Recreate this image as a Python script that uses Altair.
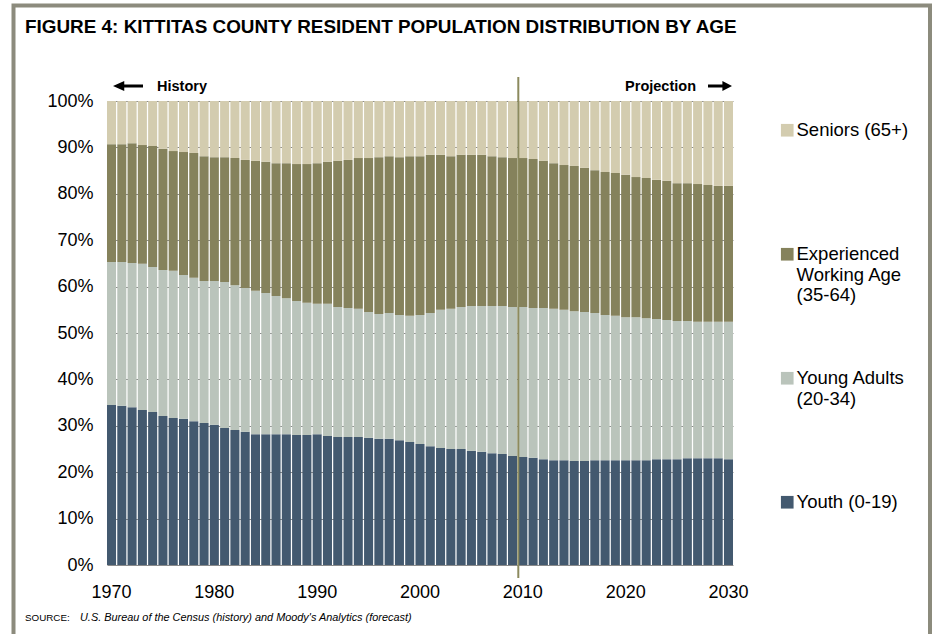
import altair as alt
import pandas as pd

FONT = "Liberation Sans, Arial, Helvetica, sans-serif"

years = list(range(1970, 2031))

# Share of resident population (%) by age group, 1970-2030
youth = [
    34.5, 34.3, 34.0, 33.4, 33.0, 32.1, 31.7, 31.5, 31.0, 30.6,
    30.2, 29.5, 29.1, 28.7, 28.2, 28.2, 28.2, 28.2, 28.0, 28.0,
    28.2, 27.8, 27.6, 27.6, 27.6, 27.4, 27.2, 27.2, 26.9, 26.5,
    26.1, 25.6, 25.2, 25.0, 25.0, 24.6, 24.4, 24.1, 23.9, 23.5,
    23.3, 23.1, 22.8, 22.6, 22.6, 22.4, 22.4, 22.6, 22.6, 22.6,
    22.6, 22.6, 22.6, 22.8, 22.8, 22.8, 23.0, 23.0, 23.0, 23.0,
    22.8,
]
young_adults = [
    30.8, 31.0, 31.1, 31.5, 31.2, 31.5, 31.7, 31.0, 30.9, 30.6,
    31.0, 31.5, 31.2, 31.0, 30.9, 30.4, 29.8, 29.3, 28.9, 28.5,
    28.1, 28.5, 28.0, 27.8, 27.6, 27.1, 26.9, 27.1, 27.0, 27.2,
    27.8, 28.7, 29.8, 30.2, 30.6, 31.2, 31.4, 31.7, 31.9, 32.1,
    32.3, 32.3, 32.6, 32.6, 32.4, 32.3, 32.1, 31.7, 31.3, 31.1,
    30.8, 30.8, 30.6, 30.2, 30.0, 29.8, 29.6, 29.4, 29.4, 29.4,
    29.6,
]
experienced = [
    25.4, 25.4, 25.8, 25.6, 26.1, 26.1, 25.8, 26.5, 26.9, 26.9,
    26.7, 26.9, 27.4, 27.6, 28.0, 28.3, 28.6, 29.1, 29.5, 29.9,
    30.3, 30.6, 31.5, 31.9, 32.5, 33.2, 33.8, 33.8, 34.0, 34.4,
    34.2, 34.1, 33.4, 32.9, 32.8, 32.6, 32.6, 32.3, 32.1, 32.1,
    32.1, 32.1, 31.7, 31.4, 31.2, 31.3, 31.1, 30.8, 30.8, 30.8,
    30.7, 30.2, 30.2, 30.0, 30.0, 29.7, 29.7, 29.7, 29.5, 29.3,
    29.3,
]
seniors = [
    9.3, 9.3, 9.1, 9.5, 9.7, 10.3, 10.8, 11.0, 11.2, 11.9,
    12.1, 12.1, 12.3, 12.7, 12.9, 13.1, 13.4, 13.4, 13.6, 13.6,
    13.4, 13.1, 12.9, 12.7, 12.3, 12.3, 12.1, 11.9, 12.1, 11.9,
    11.9, 11.6, 11.6, 11.9, 11.6, 11.6, 11.6, 11.9, 12.1, 12.3,
    12.3, 12.5, 12.9, 13.4, 13.8, 14.0, 14.4, 14.9, 15.3, 15.5,
    15.9, 16.4, 16.6, 17.0, 17.2, 17.7, 17.7, 17.9, 18.1, 18.3,
    18.3,
]

group_names = [
    "Seniors (65+)",
    "Experienced Working Age (35-64)",
    "Young Adults (20-34)",
    "Youth (0-19)",
]
group_colors = ["#D3CCAF", "#85825C", "#BAC4BB", "#43596F"]
x_tick_years = [1970, 1980, 1990, 2000, 2010, 2020, 2030]
projection_start = 2010

title_text = "FIGURE 4: KITTITAS COUNTY RESIDENT POPULATION DISTRIBUTION BY AGE"
source_label = "SOURCE:"
source_text = "U.S. Bureau of the Census (history) and Moody's Analytics (forecast)"

series = {
    "Youth (0-19)": youth,
    "Young Adults (20-34)": young_adults,
    "Experienced Working Age (35-64)": experienced,
    "Seniors (65+)": seniors,
}
stack_rank = {name: i for i, name in enumerate(series)}

rows = []
for name, values in series.items():
    for yr, v in zip(years, values):
        rows.append({"year": yr, "group": name, "share": v, "rank": stack_rank[name]})
df = pd.DataFrame(rows)

W, H = 626, 464

legend_labels = (
    "datum.label == 'Experienced Working Age (35-64)' ? ['Experienced', 'Working Age', '(35-64)'] : "
    "datum.label == 'Young Adults (20-34)' ? ['Young Adults', '(20-34)'] : datum.label"
)

bars = alt.Chart(df).mark_bar(opacity=1).encode(
    x=alt.X(
        "year:O",
        scale=alt.Scale(paddingInner=0.12, paddingOuter=0),
        axis=alt.Axis(
            values=x_tick_years, labelAngle=0, ticks=False, domain=False,
            labelFontSize=18, labelFont=FONT, labelColor="black",
            labelPadding=18, title=None, grid=False,
        ),
    ),
    y=alt.Y(
        "share:Q",
        stack="zero",
        scale=alt.Scale(domain=[0, 100], nice=False),
        axis=alt.Axis(
            values=list(range(0, 101, 10)), labelExpr="datum.value + '%'",
            ticks=False, domain=False, grid=True, gridColor="#8a8a8a",
            gridWidth=1, labelPadding=14, labelFontSize=18, labelFont=FONT,
            labelColor="black", title=None,
        ),
    ),
    color=alt.Color(
        "group:N",
        scale=alt.Scale(domain=group_names, range=group_colors),
        legend=alt.Legend(
            title=None, orient="none", legendX=671, legendY=20,
            direction="vertical", symbolType="square", symbolSize=160,
            symbolStrokeWidth=0, symbolOpacity=1, labelFontSize=18.5,
            labelFont=FONT, labelColor="black", labelExpr=legend_labels,
            labelLimit=220, labelOffset=0, rowPadding=64, gridAlign="all",
        ),
    ),
    order=alt.Order("rank:Q", sort="ascending"),
)

divider = alt.Chart(pd.DataFrame({"year": [projection_start]})).mark_rule(
    color="#8C8A5E", strokeWidth=2
).encode(
    x=alt.X("year:O", bandPosition=0),
    y=alt.value(-24),
    y2=alt.value(H + 13),
)

one = pd.DataFrame({"k": [0]})

frame = alt.Chart(one).mark_rect(
    fillOpacity=0, stroke="#8C8B7D", strokeWidth=4
).encode(
    x=alt.value(-93.5), x2=alt.value(823), y=alt.value(-95.5), y2=alt.value(545)
)

title = alt.Chart(one).mark_text(
    text=title_text, font=FONT, fontSize=18.9, fontWeight="bold",
    align="left", baseline="alphabetic", color="black"
).encode(x=alt.value(-82), y=alt.value(-68))

left_arrow = "M -1 0 L -0.25 -0.33 L -0.25 -0.1 L 1 -0.1 L 1 0.1 L -0.25 0.1 L -0.25 0.33 Z"
right_arrow = "M 1 0 L 0.2 -0.42 L 0.2 -0.13 L -1 -0.13 L -1 0.13 L 0.2 0.13 L 0.2 0.42 Z"

hist_arrow = alt.Chart(one).mark_point(
    shape=left_arrow, filled=True, color="black", opacity=1, size=900, strokeWidth=0
).encode(x=alt.value(21), y=alt.value(-15))
proj_arrow = alt.Chart(one).mark_point(
    shape=right_arrow, filled=True, color="black", opacity=1, size=576, strokeWidth=0
).encode(x=alt.value(613), y=alt.value(-15))

hist_text = alt.Chart(one).mark_text(
    text="History", font=FONT, fontSize=14.5, fontWeight="bold",
    align="left", baseline="middle", color="black"
).encode(x=alt.value(50), y=alt.value(-14))
proj_text = alt.Chart(one).mark_text(
    text="Projection", font=FONT, fontSize=14.5, fontWeight="bold",
    align="right", baseline="middle", color="black"
).encode(x=alt.value(589), y=alt.value(-14))

src1 = alt.Chart(one).mark_text(
    text=source_label, font=FONT, fontSize=9.8, align="left",
    baseline="middle", color="black"
).encode(x=alt.value(-82), y=alt.value(517))
src2 = alt.Chart(one).mark_text(
    text=source_text, font=FONT, fontSize=10.9, fontStyle="italic",
    align="left", baseline="middle", color="black"
).encode(x=alt.value(-27), y=alt.value(517))

chart = alt.layer(
    frame, bars, divider, title, hist_arrow, proj_arrow, hist_text, proj_text, src1, src2
).properties(
    width=W, height=H,
    autosize=alt.AutoSizeParams(type="none"),
    padding={"left": 107, "top": 101, "right": 204, "bottom": 69},
    background="white",
).configure_view(stroke=None)

chart.save("out.html", embed_options={"renderer": "svg", "actions": False})
